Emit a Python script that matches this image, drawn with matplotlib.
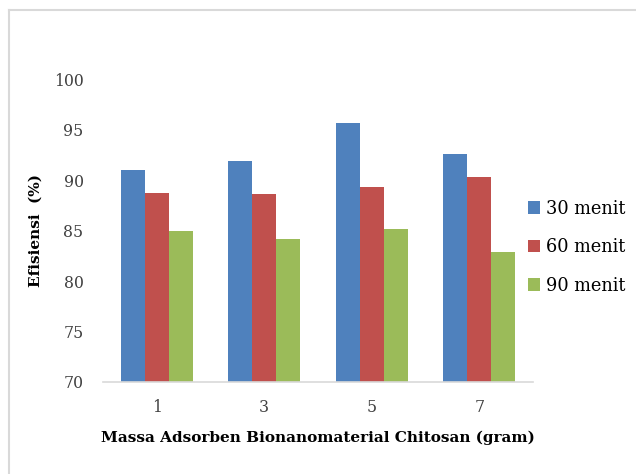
import numpy as np
import matplotlib
matplotlib.use('Agg')
import matplotlib.pyplot as plt
from matplotlib.lines import Line2D

plt.rcParams['font.family'] = ['DejaVu Serif']

massa = ['1', '3', '5', '7']
series = ['30 menit', '60 menit', '90 menit']
eff_30 = [91.0, 91.85, 95.6, 92.6]
eff_60 = [88.7, 88.6, 89.3, 90.3]
eff_90 = [85.0, 84.15, 85.1, 82.85]
colors = ['#4F81BD', '#C0504D', '#9BBB59']

fig = plt.figure(figsize=(6.36, 4.74), dpi=100)
ax = fig.add_axes([103 / 636, 1 - 382 / 474, (533 - 103) / 636, (382 - 79) / 474])

x = np.arange(len(massa))
w = 0.223
for i, (vals, name) in enumerate(zip([eff_30, eff_60, eff_90], series)):
    ax.bar(x + (i - 1) * w, np.array(vals) - 70, bottom=70, width=w,
           color=colors[i], label=name, zorder=2)

ax.set_xlim(-0.5, len(massa) - 0.5)
ax.set_ylim(70, 100)
ax.set_yticks(np.arange(70, 101, 5))
ax.set_xticks(x)
ax.set_xticklabels(massa)
ax.tick_params(axis='both', length=0, labelsize=11.3, colors='#404040')
ax.tick_params(axis='y', pad=14)
ax.tick_params(axis='x', pad=12)
for s in ['top', 'right', 'left']:
    ax.spines[s].set_visible(False)
ax.spines['bottom'].set_color('#d9d9d9')
ax.spines['bottom'].set_linewidth(1.2)

ax.set_xlabel('Massa Adsorben Bionanomaterial Chitosan (gram)',
              fontsize=11, fontweight='bold', labelpad=11)
ax.set_ylabel('Efisiensi  (%)', fontsize=11, fontweight='bold', labelpad=8)

leg = fig.legend(loc='upper left', bbox_to_anchor=(519 / 636, 1 - 191 / 474),
                 frameon=False, fontsize=12.8, handlelength=0.7, handleheight=0.7,
                 handletextpad=0.3, labelspacing=1.15, borderpad=0)

# light frame around the chart (top and left edges)
fig.add_artist(Line2D([9 / 636, 9 / 636], [0, 1 - 9.5 / 474], color='#d9d9d9', lw=1.5))
fig.add_artist(Line2D([9 / 636, 1], [1 - 9.5 / 474, 1 - 9.5 / 474], color='#d9d9d9', lw=1.5))

fig.savefig('out.png', dpi=100)
